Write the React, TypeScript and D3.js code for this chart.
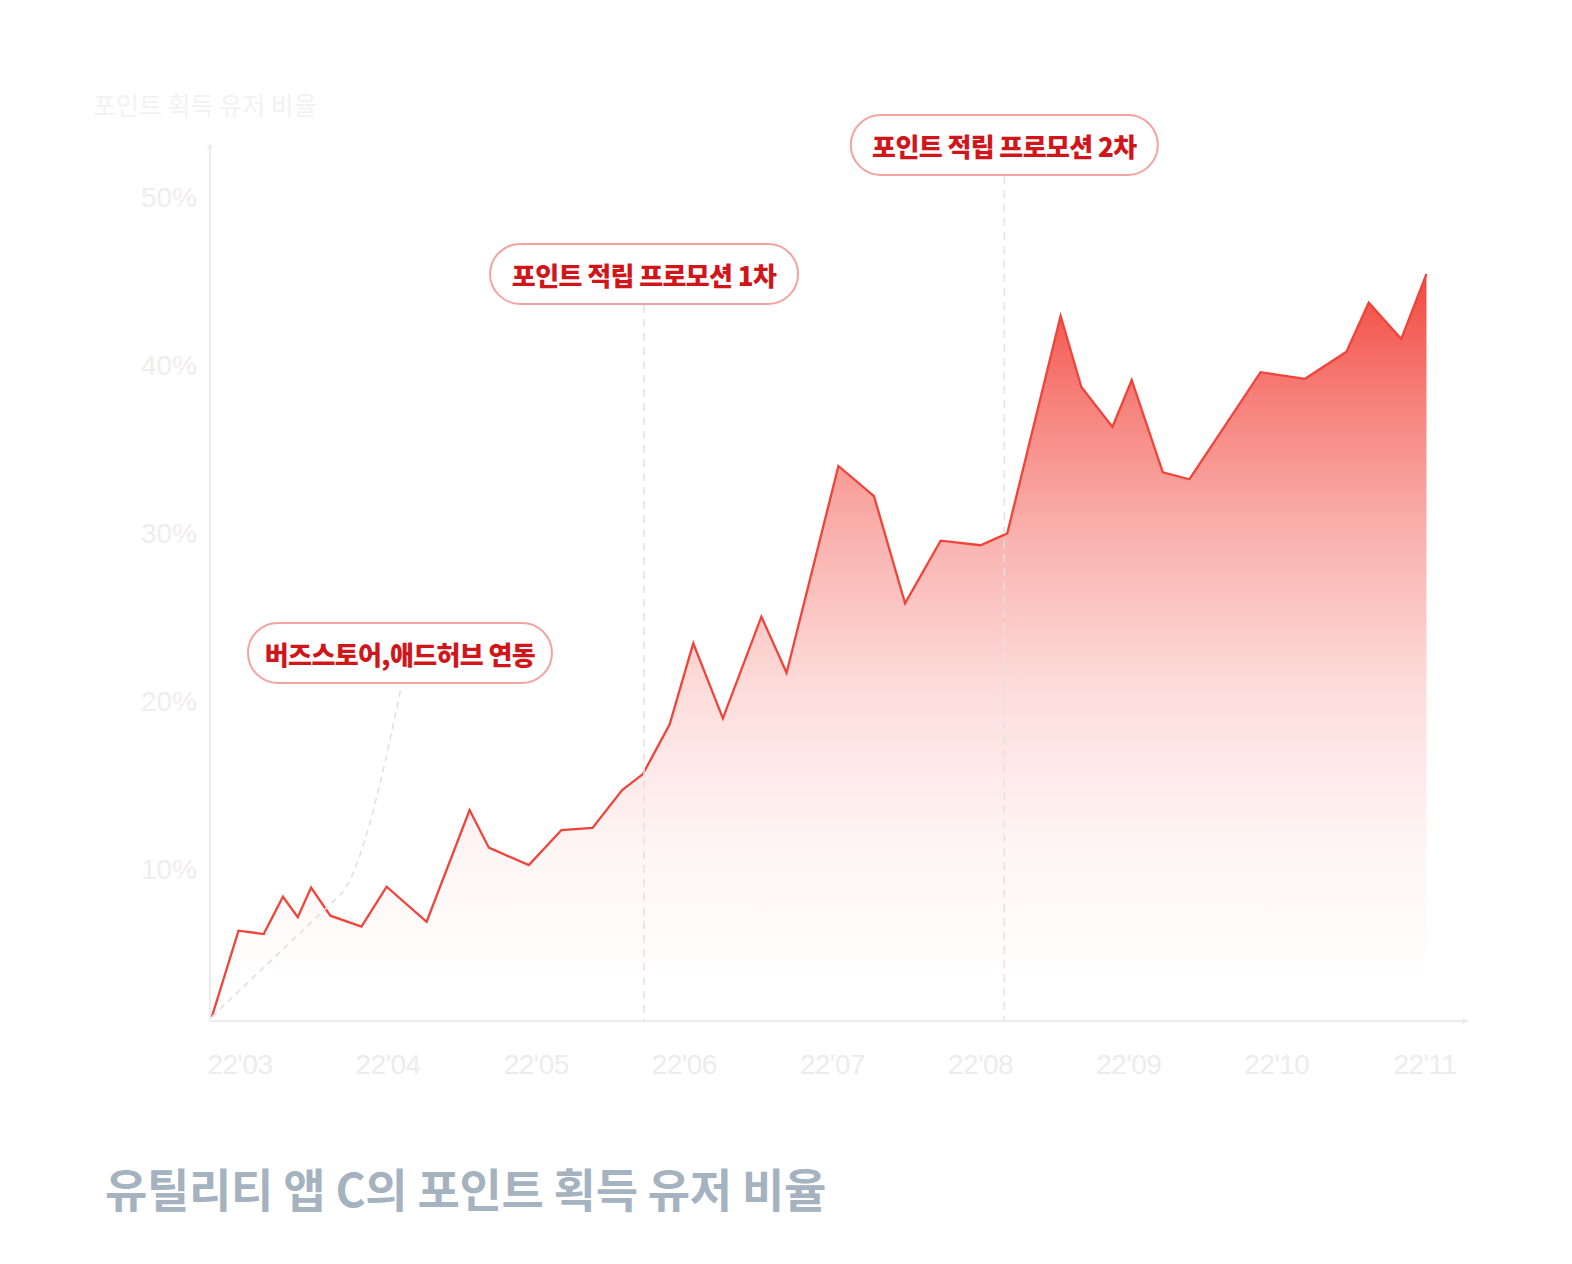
import React from "react";
import * as d3 from "d3";

// month offsets (0 = 22'03 label) and share of users (%)
const monthPos = [-0.19, -0.01, 0.16, 0.29, 0.39, 0.48, 0.61, 0.82, 0.99, 1.26, 1.55, 1.68, 1.95, 2.17, 2.38, 2.58, 2.72, 2.9, 3.06, 3.26, 3.52, 3.69, 4.04, 4.28, 4.49, 4.73, 5.0, 5.18, 5.54, 5.68, 5.89, 6.02, 6.23, 6.41, 6.89, 7.19, 7.47, 7.62, 7.84, 8.01];
const ratio = [1.2, 6.33, 6.13, 8.35, 7.13, 8.89, 7.22, 6.57, 8.95, 6.86, 13.51, 11.27, 10.23, 12.32, 12.44, 14.7, 15.65, 18.6, 23.43, 18.97, 25.02, 21.68, 33.99, 32.2, 25.82, 29.54, 29.27, 29.98, 42.92, 38.69, 36.31, 39.11, 33.61, 33.2, 39.57, 39.18, 40.79, 43.71, 41.55, 45.42];
const monthLabels = ["22'03", "22'04", "22'05", "22'06", "22'07", "22'08", "22'09", "22'10", "22'11"];
const yTicks = [10, 20, 30, 40, 50];
const annotations = [
  { text: "버즈스토어,애드허브 연동", month: 1.08, value: 22.86 },
  { text: "포인트 적립 프로모션 1차", month: 2.728, value: 45.42 },
  { text: "포인트 적립 프로모션 2차", month: 5.16, value: 53.1 },
];
const yAxisTitle = "포인트 획득 유저 비율";
const chartTitle = "유틸리티 앱 C의 포인트 획득 유저 비율";

const W = 1572;
const H = 1264;
const FONT = "'Noto Sans CJK KR', 'Noto Sans', sans-serif";

export default function App() {
  const x = d3.scaleLinear().domain([0, 8]).range([240, 1425]);
  const y = d3.scaleLinear().domain([0, 50]).range([1037, 197]);
  const axisY = 1021;
  const axisX = 210;

  const data = monthPos.map((m, i) => ({ m, v: ratio[i] }));
  const area = d3
    .area<{ m: number; v: number }>()
    .x((d) => x(d.m))
    .y0(axisY)
    .y1((d) => y(d.v));
  const line = d3
    .line<{ m: number; v: number }>()
    .x((d) => x(d.m))
    .y((d) => y(d.v));

  const boxW = [304, 308, 307];
  const boxH = 60;

  const startX = x(monthPos[0]);
  const startY = y(ratio[0]);
  const a0 = annotations[0];
  const a0x = x(a0.month) + 1;
  const a0y = y(a0.value) + boxH / 2 + 5;
  const connector = `M${startX},${startY} L340,895 C358,878 378,800 ${a0x},${a0y}`;

  return (
    <div style={{ position: "fixed", left: 0, top: 0, width: W, height: H, background: "#fff" }}>
      <svg width={W} height={H} style={{ display: "block" }}>
        <defs>
          <linearGradient id="fillGrad" gradientUnits="userSpaceOnUse" x1={0} x2={0} y1={270} y2={1000}>
            <stop offset="0" stopColor="#f2463d" stopOpacity={1} />
            <stop offset="0.18" stopColor="#f2463d" stopOpacity={0.68} />
            <stop offset="0.36" stopColor="#f2463d" stopOpacity={0.42} />
            <stop offset="0.58" stopColor="#f2463d" stopOpacity={0.18} />
            <stop offset="0.8" stopColor="#f2463d" stopOpacity={0.05} />
            <stop offset="1" stopColor="#f2463d" stopOpacity={0} />
          </linearGradient>
        </defs>

        {/* y axis title */}
        <text x={93} y={104} fontFamily={FONT} fontSize={25} fill="#f3f1f2" dominantBaseline="central">
          {yAxisTitle}
        </text>

        {/* axes */}
        <line x1={axisX} x2={axisX} y1={146} y2={axisY} stroke="#ececee" strokeWidth={2} />
        <path d={`M${axisX - 3},${149} L${axisX},${142} L${axisX + 3},${149} Z`} fill="#ececee" />
        <line x1={axisX} x2={1465} y1={axisY} y2={axisY} stroke="#ececee" strokeWidth={2} />
        <path d={`M${1462},${axisY - 3} L${1469},${axisY} L${1462},${axisY + 3} Z`} fill="#ececee" />

        {yTicks.map((t) => (
          <text key={t} x={197} y={y(t)} textAnchor="end" dominantBaseline="central" fontFamily="'Liberation Sans', Arial, sans-serif" fontSize={28} fill="#f1eced">
            {t}%
          </text>
        ))}
        {monthLabels.map((l, i) => (
          <text key={l} x={x(i)} y={1064} textAnchor="middle" dominantBaseline="central" fontFamily="'Liberation Sans', Arial, sans-serif" fontSize={28} letterSpacing={-0.5} fill="#eeebee">
            {l}
          </text>
        ))}

        {/* area + line */}
        <path d={area(data) || ""} fill="url(#fillGrad)" />
        <path d={line(data) || ""} fill="none" stroke="#f0443a" strokeWidth={2.3} strokeLinejoin="miter" />

        {/* annotation connectors */}
        <path d={connector} fill="none" stroke="#dedede" strokeWidth={1.5} strokeDasharray="6 5" />
        {annotations.slice(1).map((a, i) => (
          <line key={i} x1={x(a.month)} x2={x(a.month)} y1={y(a.value) + boxH / 2 + 1} y2={axisY - 1} stroke="#e2e2e2" strokeWidth={1.5} strokeDasharray="8 6" />
        ))}

        {/* annotation pills */}
        {annotations.map((a, i) => {
          const cx = x(a.month);
          const cy = y(a.value);
          return (
            <g key={a.text}>
              <rect x={cx - boxW[i] / 2} y={cy - boxH / 2} width={boxW[i]} height={boxH} rx={30} ry={30} fill="#fff" stroke="#f4a3a0" strokeWidth={2} />
              <text x={cx} y={cy + 1} textAnchor="middle" dominantBaseline="central" fontFamily={FONT} fontWeight={900} fontSize={26} letterSpacing={-0.6} fill="#d0161a">
                {a.text}
              </text>
            </g>
          );
        })}

        {/* chart title */}
        <text x={105} y={1187} dominantBaseline="central" fontFamily={FONT} fontWeight={700} fontSize={46} letterSpacing={-0.3} fill="#a4b3bf">
          {chartTitle}
        </text>
      </svg>
    </div>
  );
}
